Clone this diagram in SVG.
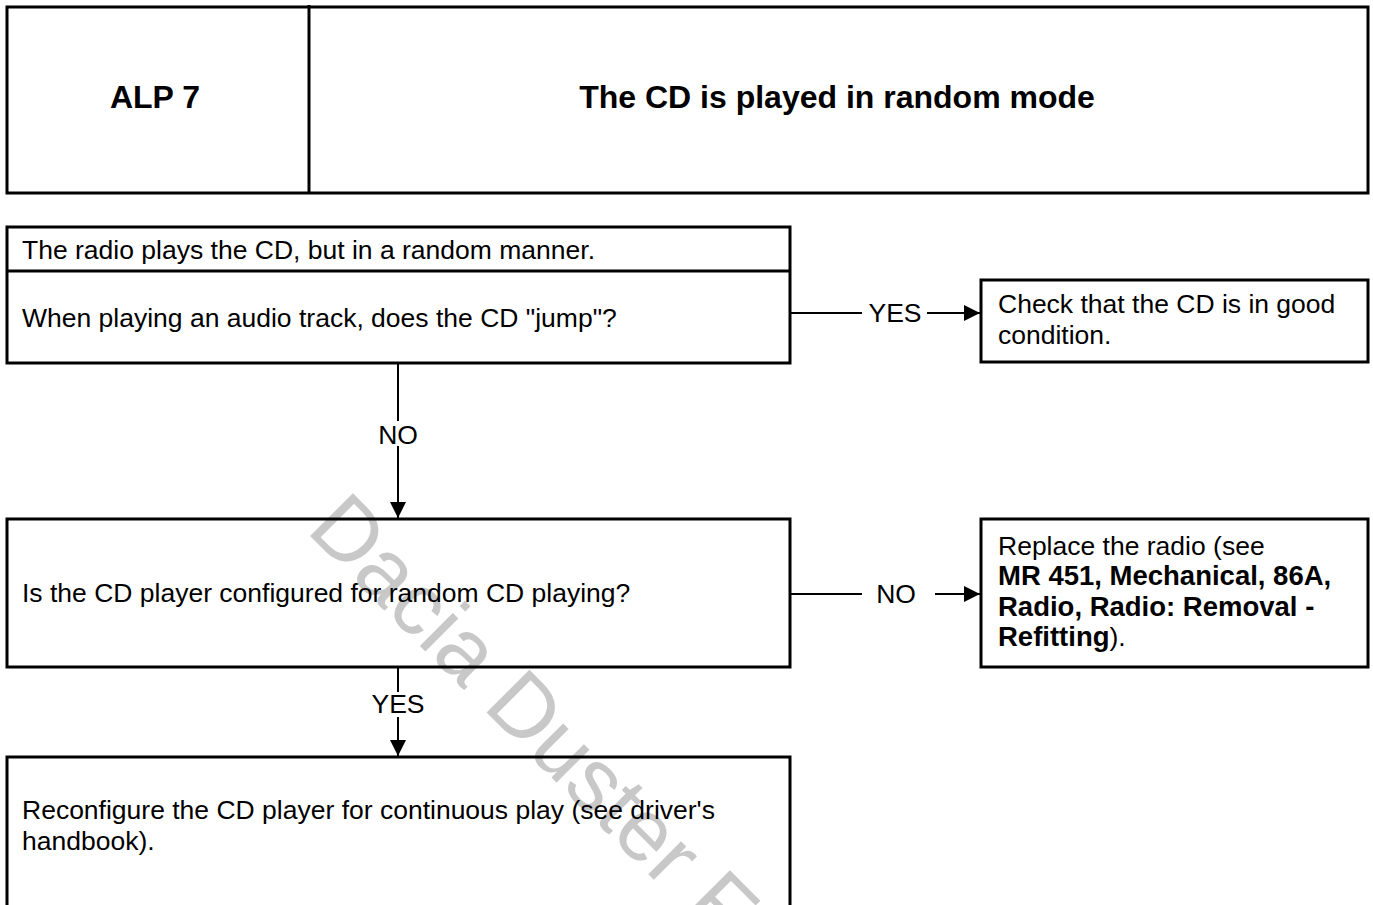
<svg xmlns="http://www.w3.org/2000/svg" width="1373" height="905" viewBox="0 0 1373 905">
<style>
.box{fill:none;stroke:#000;stroke-width:3}
.hd{font-family:"Liberation Sans",Arial,sans-serif;font-weight:bold;font-size:32px;fill:#000}
.tx{font-family:"Liberation Sans",Arial,sans-serif;font-size:26.5px;fill:#000}
.b{font-weight:bold;font-size:27.5px}
.ln{stroke:#000;stroke-width:2;fill:none}
.lb{font-family:"Liberation Sans",Arial,sans-serif;font-size:26.5px;fill:#000;text-anchor:middle}
.wm{font-family:"Liberation Sans",Arial,sans-serif;font-size:88px;fill:#c8c8c8}
</style>
<defs>
<marker id="ah" markerUnits="userSpaceOnUse" markerWidth="16" markerHeight="16" viewBox="0 0 14 14" refX="14" refY="7" orient="auto">
<path d="M0,0 L14,7 L0,14 Z" fill="#000"/>
</marker>
</defs>
<rect width="1373" height="905" fill="#fff"/>
<text class="wm" transform="translate(305,531) rotate(45)">Dacia Duster F</text>
<g id="header">
<rect class="box" x="7" y="7" width="1361" height="186"/>
<line x1="309" y1="5" x2="309" y2="193" stroke="#000" stroke-width="3"/>
<text class="hd" x="155" y="108" text-anchor="middle">ALP 7</text>
<text class="hd" x="837" y="108" text-anchor="middle">The CD is played in random mode</text>
</g>
<g id="n1">
<rect class="box" x="7" y="227" width="783" height="136"/>
<line x1="7" y1="271" x2="790" y2="271" stroke="#000" stroke-width="3"/>
<text class="tx" x="22" y="259">The radio plays the CD, but in a random manner.</text>
<text class="tx" x="22" y="327">When playing an audio track, does the CD "jump"?</text>
</g>
<g id="n2">
<rect class="box" x="981" y="280" width="387" height="82"/>
<text class="tx" x="998" y="313">Check that the CD is in good</text>
<text class="tx" x="998" y="344">condition.</text>
</g>
<g id="n3">
<rect class="box" x="7" y="519" width="783" height="148"/>
<text class="tx" x="22" y="602">Is the CD player configured for random CD playing?</text>
</g>
<g id="n4">
<rect class="box" x="981" y="519" width="387" height="148"/>
<text class="tx" x="998" y="555">Replace the radio (see</text>
<text class="tx b" x="998" y="585">MR 451, Mechanical, 86A,</text>
<text class="tx b" x="998" y="616">Radio, Radio: Removal -</text>
<text class="tx" x="998" y="646"><tspan class="b">Refitting</tspan>).</text>
</g>
<g id="n5">
<rect class="box" x="7" y="757" width="783" height="170"/>
<text class="tx" x="22" y="819">Reconfigure the CD player for continuous play (see driver's</text>
<text class="tx" x="22" y="850">handbook).</text>
</g>
<g id="connectors">
<line class="ln" x1="790" y1="313" x2="862" y2="313"/>
<text class="lb" x="895" y="322">YES</text>
<line class="ln" x1="927" y1="313" x2="980" y2="313" marker-end="url(#ah)"/>
<line class="ln" x1="398" y1="363" x2="398" y2="421"/>
<text class="lb" x="398" y="444">NO</text>
<line class="ln" x1="398" y1="446" x2="398" y2="518" marker-end="url(#ah)"/>
<line class="ln" x1="790" y1="594" x2="862" y2="594"/>
<text class="lb" x="896" y="603">NO</text>
<line class="ln" x1="935" y1="594" x2="980" y2="594" marker-end="url(#ah)"/>
<line class="ln" x1="398" y1="667" x2="398" y2="692"/>
<text class="lb" x="398" y="713">YES</text>
<line class="ln" x1="398" y1="717" x2="398" y2="756" marker-end="url(#ah)"/>
</g>
</svg>
